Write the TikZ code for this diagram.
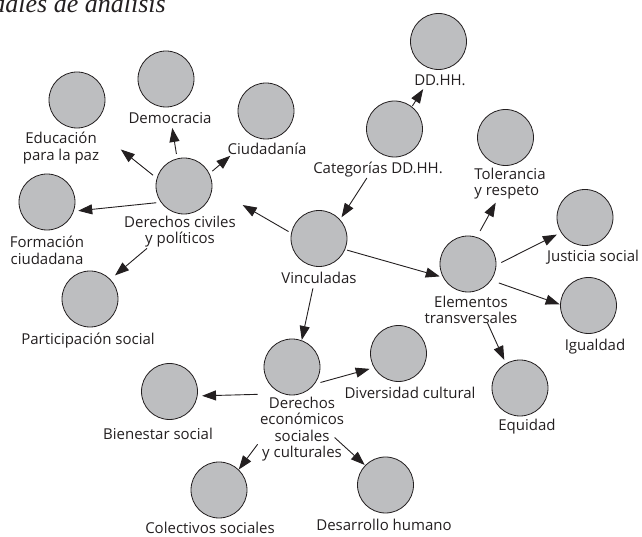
\documentclass[tikz,border=0pt]{standalone}
\usepackage{fontspec}
\usepackage{tikz}
\usetikzlibrary{positioning, calc, arrows.meta}
\newfontfamily\labelfont{Open Sans}
\newfontfamily\titlefont{Liberation Serif}
\definecolor{discgray}{RGB}{189,190,192}
\definecolor{inkgray}{RGB}{35,31,32}

\begin{document}
\begin{tikzpicture}[x=1pt, y=1pt, thick]
        % Define styles
        \tikzstyle{disc} = [circle, draw=inkgray, fill=discgray, line width=0.8pt, minimum size=56pt, inner sep=0pt]
        \tikzstyle{tag} = [font=\labelfont\fontsize{15}{16.5}\selectfont, text=inkgray, align=center, inner sep=2pt]
        \tikzstyle{arrow} = [-{Triangle[length=14pt, width=10pt]}, draw=inkgray, line width=0.9pt]

        \useasboundingbox (0,0) rectangle (642,537);

        % Title, cut at the border
        \node[anchor=base west, inner sep=0pt, text=inkgray, font=\titlefont\itshape\fontsize{26}{30}\selectfont] (title) at (-8,524) {dales de análisis};

        % Place circles
        \node [disc] (paz) at (77,437) {};
        \node [disc] (democracia) at (166,458) {};
        \node [disc] (ciudadania) at (266,426) {};
        \node [disc] (civiles) at (184,351) {};
        \node [disc] (formacion) at (47,335) {};
        \node [disc] (participacion) at (90,238) {};
        \node [disc] (vinculadas) at (319,298.5) {};
        \node [disc] (ddhh) at (438.5,495.5) {};
        \node [disc] (categorias) at (394.5,408) {};
        \node [disc] (tolerancia) at (505.5,399.5) {};
        \node [disc] (justicia) at (585,319.5) {};
        \node [disc] (elementos) at (468,273) {};
        \node [disc] (igualdad) at (588.5,231.5) {};
        \node [disc] (equidad) at (520,149) {};
        \node [disc] (diversidad) at (398.5,183.5) {};
        \node [disc] (desarrollo) at (385.5,52) {};
        \node [disc] (economicos) at (292,170) {};
        \node [disc] (bienestar) at (169.5,145.5) {};
        \node [disc] (colectivos) at (219,47) {};

        % Place labels
        \node [tag] (paz_txt) at (61,389) {Educación\\para la paz};
        \node [tag] (democracia_txt) at (170,419) {Democracia};
        \node [tag] (ciudadania_txt) at (267,388) {Ciudadanía};
        \node [tag] (civiles_txt) at (180,305.5) {Derechos civiles\\y políticos};
        \node [tag] (formacion_txt) at (47,286.5) {Formación\\ciudadana};
        \node [tag] (participacion_txt) at (88,196) {Participación social};
        \node [tag] (vinculadas_txt) at (319,259) {Vinculadas};
        \node [tag] (ddhh_txt) at (440,457) {DD.HH.};
        \node [tag] (categorias_txt) at (378,367) {Categorías DD.HH.};
        \node [tag, align=left] (tolerancia_txt) at (510,353.5) {Tolerancia\\y respeto};
        \node [tag] (justicia_txt) at (593,280) {Justicia social};
        \node [tag] (elementos_txt) at (471,227) {Elementos\\transversales};
        \node [tag] (igualdad_txt) at (595,190) {Igualdad};
        \node [tag] (equidad_txt) at (527,110) {Equidad};
        \node [tag] (diversidad_txt) at (410,144) {Diversidad cultural};
        \node [tag] (desarrollo_txt) at (384,12) {Desarrollo humano};
        \node [tag] (economicos_txt) at (302,108) {Derechos\\económicos\\sociales\\y culturales};
        \node [tag] (bienestar_txt) at (158,103) {Bienestar social};
        \node [tag] (colectivos_txt) at (210,9) {Colectivos sociales};

        % Draw connections as arrows
        \draw [arrow, shorten <=4.7pt, shorten >=39pt] (civiles.164) -- (paz.-62);
        \draw [arrow, shorten <=4.5pt, shorten >=21pt] (civiles.104) -- (democracia.-84);
        \draw [arrow, shorten <=3.7pt, shorten >=30pt] (civiles.26) -- (ciudadania.243);
        \draw [arrow, shorten <=4.5pt, shorten >=4.4pt] (civiles.215) -- (formacion.-19.5);
        \draw [arrow, shorten <=53pt, shorten >=6pt] (civiles.-83) -- (participacion.44);
        \draw [arrow, shorten <=3pt, shorten >=35pt] (vinculadas.169) -- (civiles.-3);
        \draw [arrow, shorten <=28pt, shorten >=2.6pt] (categorias.244) -- (vinculadas.42);
        \draw [arrow, shorten <=0.7pt, shorten >=23pt] (categorias.52) -- (ddhh.264);
        \draw [arrow, shorten <=2pt, shorten >=3.3pt] (vinculadas.-23) -- (elementos.208);
        \draw [arrow, shorten <=7pt, shorten >=45pt] (elementos.72) -- (tolerancia.-65);
        \draw [arrow, shorten <=5.5pt, shorten >=4.5pt] (elementos.-2) -- (justicia.212);
        \draw [arrow, shorten <=8pt, shorten >=0.5pt] (elementos.-35) -- (igualdad.178);
        \draw [arrow, shorten <=34pt, shorten >=3.7pt] (elementos.-79) -- (equidad.120);
        \draw [arrow, shorten <=22pt, shorten >=0.3pt] (vinculadas.267) -- (economicos.70);
        \draw [arrow, shorten >=4.5pt] (economicos_txt.north west) -- (bienestar.-9);
        \draw [arrow] (economicos_txt.199) -- (colectivos.46);
        \draw [arrow, shorten <=6pt, shorten >=4.4pt] (economicos.-37) -- (diversidad.210);
        \draw [arrow, shorten <=63pt, shorten >=0.5pt] (economicos.262) -- (desarrollo.136);
\end{tikzpicture}
\end{document}
